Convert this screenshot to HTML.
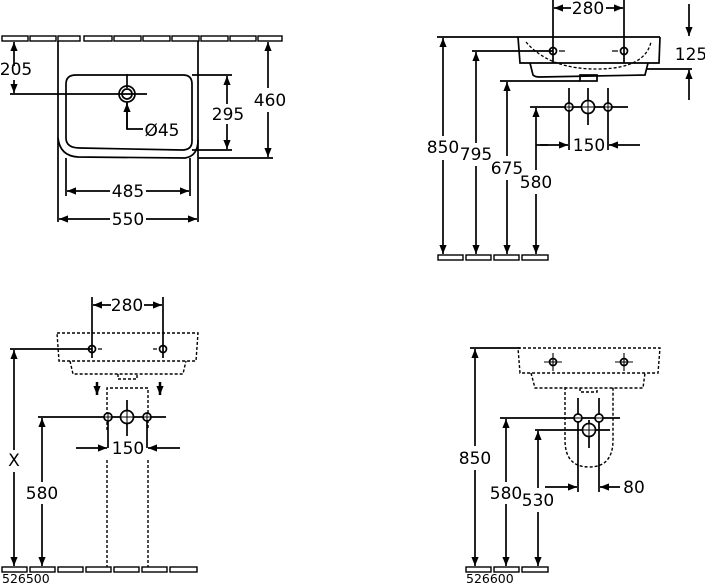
<!DOCTYPE html>
<html><head><meta charset="utf-8"><style>
html,body{margin:0;padding:0;background:#fff;}
svg{display:block;}
text{font-family:"DejaVu Sans","Liberation Sans",sans-serif;font-size:17px;fill:#000;}
.s{font-size:12.5px;}
</style></head><body>
<svg width="705" height="585" viewBox="0 0 705 585" xmlns="http://www.w3.org/2000/svg">
<defs>
<marker id="a" viewBox="0 0 10 10" refX="10" refY="5" markerWidth="10" markerHeight="9" orient="auto-start-reverse" markerUnits="userSpaceOnUse"><path d="M0,1 L10,5 L0,9 z" fill="#000"/></marker>
</defs>
<g stroke="#000" stroke-width="1.7" fill="none">
<!-- ===== Q1 top view ===== -->
<g stroke-width="1.4">
<rect x="2" y="36" width="26" height="5"/><rect x="30" y="36" width="26" height="5"/><rect x="58" y="36" width="22" height="5"/>
<rect x="84" y="36" width="28" height="5"/><rect x="114" y="36" width="27" height="5"/><rect x="143" y="36" width="27" height="5"/>
<rect x="172" y="36" width="27" height="5"/><rect x="201" y="36" width="27" height="5"/><rect x="230" y="36" width="26" height="5"/><rect x="258" y="36" width="24" height="5"/>
</g>
<path d="M58 41 V222 M198 41 V222"/>
<path d="M58 138 Q60 156 78 157 L185 158 Q198 156 198 140"/>
<path d="M66 84 Q66 75 76 75 L183 75 Q192 75 192 84 L192 141 Q192 150 182 150 L80 148 Q66 148 66 138 Z"/>
<line x1="66" y1="158" x2="66" y2="196"/><line x1="190" y1="158" x2="190" y2="196"/>
<circle cx="127" cy="94" r="8"/><circle cx="127" cy="94" r="5"/>
<path d="M10 94 H147 M127 74 V88"/>
<path d="M127 102 V129 H143"/>
<line x1="127" y1="129" x2="127" y2="103" marker-end="url(#a)"/>
<line x1="14" y1="66" x2="14" y2="42" marker-end="url(#a)"/><line x1="14" y1="80" x2="14" y2="93" marker-end="url(#a)"/>
<path d="M192 75 H232 M192 150 H232 M198 158 H273"/>
<line x1="227" y1="104" x2="227" y2="76" marker-end="url(#a)"/><line x1="227" y1="124" x2="227" y2="149" marker-end="url(#a)"/>
<line x1="268" y1="88" x2="268" y2="42" marker-end="url(#a)"/><line x1="268" y1="112" x2="268" y2="157" marker-end="url(#a)"/>
<line x1="110" y1="191" x2="67" y2="191" marker-end="url(#a)"/><line x1="146" y1="191" x2="189" y2="191" marker-end="url(#a)"/>
<line x1="110" y1="219" x2="59" y2="219" marker-end="url(#a)"/><line x1="146" y1="219" x2="197" y2="219" marker-end="url(#a)"/>

<!-- ===== Q2 side view ===== -->
<path d="M437 37 H660"/>
<path d="M518 37 L520 63 H659 L660 37"/>
<path d="M530 63 L533 75 Q535 77 540 77 L645 75 L648 63"/>
<rect x="580" y="75" width="17" height="6"/>
<path d="M526 42 Q550 70 600 69 Q645 68 651 42" stroke-dasharray="3,2" stroke-width="1.3"/>
<path d="M553 0 V63 M624 0 V63"/>
<circle cx="553" cy="51" r="3.5"/><circle cx="624" cy="51" r="3.5"/>
<path d="M559 51 H565 M612 51 H618" stroke-width="1.3"/>
<line x1="571" y1="8" x2="554" y2="8" marker-end="url(#a)"/><line x1="606" y1="8" x2="623" y2="8" marker-end="url(#a)"/>
<path d="M647 69 H692"/>
<line x1="689" y1="4" x2="689" y2="36" marker-end="url(#a)"/><line x1="689" y1="100" x2="689" y2="70" marker-end="url(#a)"/>
<line x1="443" y1="136" x2="443" y2="38" marker-end="url(#a)"/><line x1="443" y1="160" x2="443" y2="254" marker-end="url(#a)"/>
<path d="M472 51 H553"/>
<line x1="476" y1="143" x2="476" y2="52" marker-end="url(#a)"/><line x1="476" y1="166" x2="476" y2="254" marker-end="url(#a)"/>
<path d="M500 81 H580"/>
<line x1="507" y1="156" x2="507" y2="82" marker-end="url(#a)"/><line x1="507" y1="180" x2="507" y2="254" marker-end="url(#a)"/>
<path d="M530 107 H628 M569 88 V150 M588 88 V125 M608 88 V150"/>
<circle cx="569" cy="107" r="4" fill="#fff"/><circle cx="588" cy="107" r="6.5" fill="#fff"/><circle cx="608" cy="107" r="4" fill="#fff"/>
<path d="M565 107 H573 M569 103 V111 M582 107 H594 M588 101 V113 M604 107 H612 M608 103 V111" stroke-width="1"/>
<line x1="536" y1="170" x2="536" y2="108" marker-end="url(#a)"/><line x1="536" y1="194" x2="536" y2="254" marker-end="url(#a)"/>
<path d="M536 145 H548"/>
<line x1="540" y1="145" x2="568" y2="145" marker-end="url(#a)"/><line x1="640" y1="145" x2="609" y2="145" marker-end="url(#a)"/>
<g stroke-width="1.4"><rect x="438" y="255" width="25" height="5"/><rect x="466" y="255" width="25" height="5"/><rect x="494" y="255" width="25" height="5"/><rect x="522" y="255" width="26" height="5"/></g>

<!-- ===== Q3 ===== -->
<g stroke-dasharray="3,2" stroke-width="1.4">
<path d="M57 333 H198 L196 361 H59 Z"/>
<path d="M70 361 L73 374 H183 L186 361"/>
<path d="M118 374 V379 H137 V374"/>
<path d="M107 430 V388 H148 V430 M107 460 V567 M148 460 V567"/>
</g>
<path d="M92 297 V358 M163 297 V358"/>
<circle cx="92" cy="349" r="3.5"/><circle cx="163" cy="349" r="3.5"/>
<path d="M98 349 H102 M153 349 H157" stroke-width="1.3"/>
<line x1="111" y1="305" x2="93" y2="305" marker-end="url(#a)"/><line x1="144" y1="305" x2="162" y2="305" marker-end="url(#a)"/>
<path d="M10 349 H92"/>
<line x1="14" y1="450" x2="14" y2="350" marker-end="url(#a)"/><line x1="14" y1="472" x2="14" y2="566" marker-end="url(#a)"/>
<line x1="97" y1="382" x2="97" y2="395" marker-end="url(#a)" stroke-width="2.5"/>
<line x1="160" y1="382" x2="160" y2="395" marker-end="url(#a)" stroke-width="2.5"/>
<path d="M38 417 H166 M127 400 V436 M108 417 V448 M147 417 V448"/>
<circle cx="108" cy="417" r="4" fill="#fff"/><circle cx="127" cy="417" r="6.5" fill="#fff"/><circle cx="147" cy="417" r="4" fill="#fff"/>
<path d="M104 417 H112 M108 413 V421 M121 417 H133 M127 411 V423 M143 417 H151 M147 413 V421" stroke-width="1"/>
<line x1="42" y1="482" x2="42" y2="418" marker-end="url(#a)"/><line x1="42" y1="504" x2="42" y2="566" marker-end="url(#a)"/>
<line x1="76" y1="448" x2="107" y2="448" marker-end="url(#a)"/><line x1="180" y1="448" x2="148" y2="448" marker-end="url(#a)"/>
<g stroke-width="1.4"><rect x="2" y="567" width="25" height="5"/><rect x="30" y="567" width="25" height="5"/><rect x="58" y="567" width="25" height="5"/><rect x="86" y="567" width="25" height="5"/><rect x="114" y="567" width="25" height="5"/><rect x="142" y="567" width="25" height="5"/><rect x="170" y="567" width="27" height="5"/></g>

<!-- ===== Q4 ===== -->
<g stroke-dasharray="3,2" stroke-width="1.4">
<path d="M518 348 H660 L658 373 H520 Z"/>
<path d="M531 373 L535 388 H643 L645 373"/>
<path d="M580 388 V392 H597 V388"/>
<path d="M565 387 V440 Q565 467 589 467 Q613 467 613 440 V387"/>
</g>
<circle cx="553" cy="362" r="3.5"/><circle cx="624" cy="362" r="3.5"/>
<path d="M544 362 H562 M553 353 V371 M615 362 H633 M624 353 V371" stroke-width="1.1"/>
<path d="M470 348 H520"/>
<line x1="475" y1="446" x2="475" y2="349" marker-end="url(#a)"/><line x1="475" y1="470" x2="475" y2="566" marker-end="url(#a)"/>
<path d="M500 418 H620 M578 398 V492 M599 398 V492"/>
<circle cx="578" cy="418" r="4" fill="#fff"/><circle cx="599" cy="418" r="4" fill="#fff"/>
<path d="M574 418 H582 M595 418 H603" stroke-width="1"/>
<line x1="506" y1="482" x2="506" y2="419" marker-end="url(#a)"/><line x1="506" y1="504" x2="506" y2="566" marker-end="url(#a)"/>
<path d="M535 430 H610 M589 420 V448"/>
<circle cx="589" cy="430" r="6.5" fill="#fff"/>
<path d="M583 430 H595 M589 424 V436" stroke-width="1"/>
<line x1="538" y1="488" x2="538" y2="431" marker-end="url(#a)"/><line x1="538" y1="512" x2="538" y2="566" marker-end="url(#a)"/>
<line x1="545" y1="487" x2="577" y2="487" marker-end="url(#a)"/><line x1="620" y1="487" x2="600" y2="487" marker-end="url(#a)"/>
<g stroke-width="1.4"><rect x="466" y="567" width="25" height="5"/><rect x="494" y="567" width="25" height="5"/><rect x="522" y="567" width="26" height="5"/></g>
</g>

<g text-anchor="middle">
<text x="16" y="75">205</text>
<text x="162" y="136">Ø45</text>
<text x="228" y="120">295</text>
<text x="270" y="106">460</text>
<text x="128" y="197">485</text>
<text x="128" y="225">550</text>
<text x="588" y="14">280</text>
<text x="691" y="60">125</text>
<text x="443" y="153">850</text>
<text x="476" y="160">795</text>
<text x="507" y="174">675</text>
<text x="536" y="188">580</text>
<text x="589" y="151">150</text>
<text x="127" y="311">280</text>
<text x="14" y="466">X</text>
<text x="42" y="499">580</text>
<text x="128" y="454">150</text>
<text x="475" y="464">850</text>
<text x="506" y="499">580</text>
<text x="538" y="506">530</text>
<text x="634" y="493">80</text>
</g>
<text class="s" x="2" y="583">526500</text>
<text class="s" x="466" y="583">526600</text>
</svg>
</body></html>
